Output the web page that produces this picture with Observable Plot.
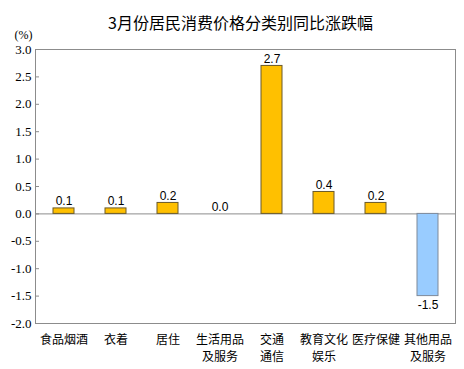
<!DOCTYPE html>
<html><head><meta charset="utf-8">
<script src="https://cdn.jsdelivr.net/npm/d3@7"></script>
<script src="https://cdn.jsdelivr.net/npm/@observablehq/plot@0.6"></script>
<style>
body{margin:0;background:#fff}
</style>
</head><body><div id="chart"></div>
<script>
const title = "3月份居民消费价格分类别同比涨跌幅";
const unitLabel = "(%)";
const categories = ["食品烟酒", "衣着", "居住", "生活用品\n及服务", "交通\n通信", "教育文化\n娱乐", "医疗保健", "其他用品\n及服务"];
const values = [0.1, 0.1, 0.2, 0.0, 2.7, 0.4, 0.2, -1.5];
const yTicks = [-2.0, -1.5, -1.0, -0.5, 0.0, 0.5, 1.0, 1.5, 2.0, 2.5, 3.0];

const data = categories.map((c, i) => ({cat: c, value: values[i]}));
const fmt = d => d.toFixed(1);

const chart = Plot.plot({
  width: 464, height: 369,
  marginLeft: 35, marginRight: 9, marginTop: 49, marginBottom: 46,
  style: {background: "#fff", color: "#000"},
  x: {domain: categories, paddingInner: 0.6, paddingOuter: 0.3, label: null},
  y: {domain: [-2, 3], label: null},
  marks: [
    Plot.frame({stroke: "#8c8c8c"}),
    Plot.axisY({ticks: yTicks, tickSize: -4, stroke: "#8c8c8c", fill: "none", label: null}),
    Plot.text(yTicks, {y: d => d, text: fmt, frameAnchor: "left", textAnchor: "end", dx: -4,
      fontFamily: "Liberation Serif", fontSize: 13, fill: "#000"}),
    Plot.axisX({tickSize: 0, tickPadding: 9, label: null, fontFamily: "Noto Sans CJK SC", fontSize: 12, lineHeight: 1.4, fill: "#000"}),
    Plot.ruleY([0], {stroke: "#8c8c8c"}),
    Plot.barY(data, {x: "cat", y: "value",
      fill: d => d.value >= 0 ? "#FFC000" : "#99CCFF",
      stroke: d => d.value >= 0 ? "#6b5a2a" : "#7f8a99", strokeWidth: 1}),
    Plot.text(data.filter(d => d.value >= 0), {x: "cat", y: "value", text: d => fmt(d.value), dy: -7,
      fontFamily: "Liberation Sans", fontSize: 12, fill: "#000"}),
    Plot.text(data.filter(d => d.value < 0), {x: "cat", y: "value", text: d => fmt(d.value), dy: 9,
      fontFamily: "Liberation Sans", fontSize: 12, fill: "#000"}),
    Plot.text([title], {frameAnchor: "top", dx: -5, dy: -32, fontFamily: "Noto Sans CJK SC", fontSize: 16, fill: "#000"}),
    Plot.text([unitLabel], {frameAnchor: "top-left", dx: -21, dy: -19, fontFamily: "Liberation Serif", fontSize: 12, fill: "#000"})
  ]
});
document.getElementById("chart").appendChild(chart);
</script>
</body></html>
